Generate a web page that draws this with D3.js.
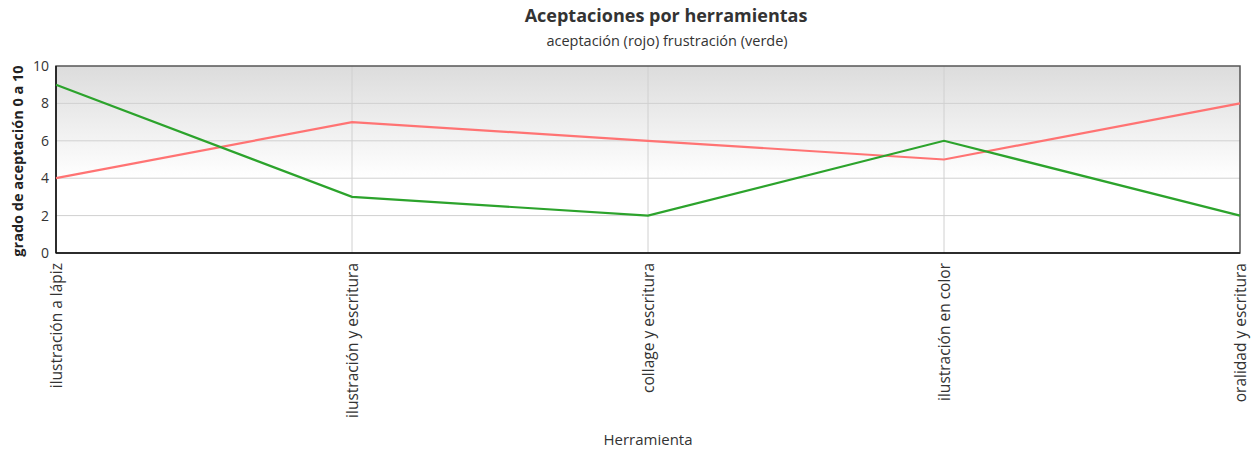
<!DOCTYPE html>
<html>
<head>
<meta charset="utf-8">
<script src="https://cdn.jsdelivr.net/npm/d3@7"></script>
<style>
body{margin:0;background:#fff;font-family:"Open Sans","DejaVu Sans",sans-serif;}
</style>
</head>
<body>
<svg id="chart" width="1251" height="452"></svg>
<script>
// datos
const herramientas = ["ilustración a lápiz","ilustración y escritura","collage y escritura","ilustración en color","oralidad y escritura"]
const aceptacion = [4,7,6,5,8]
const frustracion = [9,3,2,6,2]
const yTicks = [0,2,4,6,8,10]

const margin = {top:66,left:56,right:11,bottom:199}
const width = 1251 - margin.left - margin.right
const height = 452 - margin.top - margin.bottom

const svg = d3.select("#chart")

// fondo degradado
const defs = svg.append("defs")
const grad = defs.append("linearGradient").attr("id","bg").attr("x1",0).attr("x2",0).attr("y1",0).attr("y2",1)
grad.append("stop").attr("offset","0%").attr("stop-color","#dcdcdc")
grad.append("stop").attr("offset","60%").attr("stop-color","#ffffff")
grad.append("stop").attr("offset","100%").attr("stop-color","#ffffff")

const g = svg.append("g").attr("transform",`translate(${margin.left},${margin.top})`)

const x = d3.scalePoint().domain(herramientas).range([0,width]).padding(0)
const y = d3.scaleLinear().domain([0,10]).range([height,0])

g.append("rect").attr("width",width).attr("height",height).attr("fill","url(#bg)")

// rejilla
g.selectAll(".hgrid").data(yTicks.slice(1,-1)).enter().append("line")
    .attr("x1",0).attr("x2",width)
    .attr("y1",d=>y(d)).attr("y2",d=>y(d))
    .attr("stroke","#d0d0d0").attr("stroke-width",1)
g.selectAll(".vgrid").data(herramientas.slice(1,-1)).enter().append("line")
    .attr("x1",d=>x(d)).attr("x2",d=>x(d))
    .attr("y1",0).attr("y2",height)
    .attr("stroke","#d0d0d0").attr("stroke-width",1)

// borde del area
g.append("rect").attr("width",width).attr("height",height)
    .attr("fill","none").attr("stroke","#555").attr("stroke-width",1.5)
g.append("line").attr("x1",0).attr("x2",0).attr("y1",0).attr("y2",height).attr("stroke","#111").attr("stroke-width",1.5)
g.append("line").attr("x1",0).attr("x2",width).attr("y1",height).attr("y2",height).attr("stroke","#111").attr("stroke-width",1.5)

// ejes
const yAxis = g.append("g").call(d3.axisLeft(y).tickValues(yTicks).tickSize(0).tickPadding(7))
yAxis.select(".domain").remove()
yAxis.selectAll("text").attr("font-size","14px").attr("fill","#333").attr("font-family","'Open Sans',sans-serif")

const xAxis = g.append("g").attr("transform",`translate(0,${height})`)
    .call(d3.axisBottom(x).tickSize(0))
xAxis.select(".domain").remove()
xAxis.selectAll("text")
    .attr("font-size","15.5px").attr("fill","#333").attr("font-family","'Open Sans',sans-serif")
    .attr("transform","rotate(-90)")
    .attr("text-anchor","end")
    .attr("x",-10).attr("y",0).attr("dy","0.35em")

// lineas
const line = d3.line().x((d,i)=>x(herramientas[i])).y(d=>y(d))
g.append("path").datum(aceptacion).attr("d",line)
    .attr("fill","none").attr("stroke","#ff7373").attr("stroke-width",2.2)
g.append("path").datum(frustracion).attr("d",line)
    .attr("fill","none").attr("stroke","#2ca32c").attr("stroke-width",2.2)

// titulos
svg.append("text").attr("x",666).attr("y",22).attr("text-anchor","middle")
    .attr("font-size","18px").attr("font-weight","bold").attr("fill","#333")
    .text("Aceptaciones por herramientas")
svg.append("text").attr("x",667).attr("y",46).attr("text-anchor","middle")
    .attr("font-size","14.5px").attr("fill","#333")
    .text("aceptación (rojo) frustración (verde)")
svg.append("text").attr("x",648).attr("y",445).attr("text-anchor","middle")
    .attr("font-size","15px").attr("fill","#333")
    .text("Herramienta")
svg.append("text").attr("transform","translate(23,161) rotate(-90)").attr("text-anchor","middle")
    .attr("font-size","14.5px").attr("font-weight","bold").attr("fill","#222")
    .text("grado de aceptación 0 a 10")
</script>
</body>
</html>
